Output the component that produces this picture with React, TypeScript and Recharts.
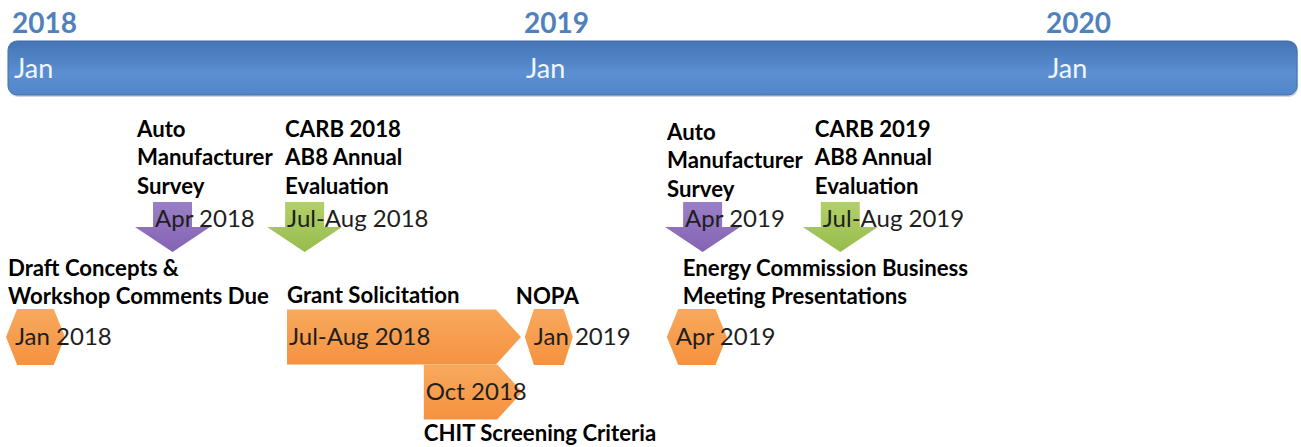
import React from 'react';
import { ComposedChart, XAxis, YAxis, Scatter, ReferenceArea, ReferenceLine } from 'recharts';

// x is months counted from Jan 2018 (the original layout is hand placed)
const yearTicks = [0, 12, 24];
const yearLabels = ['2018', '2019', '2020'];
const tickMonth = 'Jan';

// down arrows (row 2)
const arrowStart = [2.85, 5.91, 15.13, 18.32];
const arrowDates = ['Apr 2018', 'Jul-Aug 2018', 'Apr 2019', 'Jul-Aug 2019'];
const arrowKinds = ['survey', 'carb', 'survey', 'carb'];
const arrowTitles = [
  ['Auto', 'Manufacturer', 'Survey'],
  ['CARB 2018', 'AB8 Annual', 'Evaluation'],
  ['Auto', 'Manufacturer', 'Survey'],
  ['CARB 2019', 'AB8 Annual', 'Evaluation'],
];

// hexagon milestones (row 4)
const hexStart = [-0.14, 11.88, 15.17];
const hexDates = ['Jan 2018', 'Jan 2019', 'Apr 2019'];
const hexTitles = [
  ['Draft Concepts &', 'Workshop Comments Due'],
  ['NOPA'],
  ['Energy Commission Business', 'Meeting Presentations'],
];

// pentagon spans (rows 4 and 5)
const barStart = [6.37, 9.54];
const barEnd = [11.79, 11.82];
const barRows = [4, 5];
const barDates = ['Jul-Aug 2018', 'Oct 2018'];
const barTitles = ['Grant Solicitation', 'CHIT Screening Criteria'];

const ARROW_ROW = 2;
const HEX_ROW = 4;

const arrowData = arrowStart.map((start, i) => ({
  start, row: ARROW_ROW, date: arrowDates[i], kind: arrowKinds[i], title: arrowTitles[i], idx: i,
}));
const hexData = hexStart.map((start, i) => ({
  start, row: HEX_ROW, date: hexDates[i], title: hexTitles[i], idx: i,
}));
const barData = barStart.map((start, i) => ({
  start, end: barEnd[i], row: barRows[i], date: barDates[i], title: barTitles[i], idx: i,
}));

// layout bits
const W = 1301;
const H = 447;
const X_DOMAIN = [-0.278, 29.861];
const FONT = 'Lato, "Open Sans", sans-serif';
const arrowTitleDx = [2, 18, 2, 12];
const arrowTitleDy = [0, 0, 3, 0];
const hexWidth = [59, 48, 60];
const hexTitleDx = [2, -9, 16];
const yearDx = [0, -6, -2];
const BAND_LEFT = -0.093;
const BAND_RIGHT = 29.77;
const BAND_TOP = -1.382;
const BAND_BOTTOM = -0.4;

const titleStyle = { fontFamily: FONT, fontSize: 22.2, fontWeight: 700, fill: '#000' };
const dateStyle = { fontFamily: FONT, fontSize: 24, fill: '#1e1e1e' };

const YearLabel = (props: any) => {
  const { viewBox, index } = props;
  const x = viewBox.x + yearDx[index];
  return (
    <g>
      <text x={x} y={33} style={{ fontFamily: FONT, fontSize: 28, fontWeight: 700, fill: '#4f81bd' }}>
        {yearLabels[index]}
      </text>
      <text x={x + 2} y={78} style={{ fontFamily: FONT, fontSize: 27, fill: '#f2f6fc' }}>
        {tickMonth}
      </text>
    </g>
  );
};

const ArrowShape = (props: any) => {
  const { cx, cy, payload } = props;
  const x0 = cx;
  const w = 75;
  const sl = 18;
  const sw = 39;
  const half = 25;
  const d = `M${x0 + sl},${cy - half} H${x0 + sl + sw} V${cy} H${x0 + w} L${x0 + w / 2},${cy + half} L${x0},${cy} H${x0 + sl} Z`;
  const fill = payload.kind === 'survey' ? 'url(#gPurple)' : 'url(#gGreen)';
  const tx = x0 + arrowTitleDx[payload.idx];
  const ty = cy - 90 + arrowTitleDy[payload.idx];
  return (
    <g>
      <path d={d} fill={fill} />
      <text x={x0 + 20} y={cy} style={dateStyle}>{payload.date}</text>
      {payload.title.map((t: string, i: number) => (
        <text key={i} x={tx} y={ty + i * 28.5} style={titleStyle}>{t}</text>
      ))}
    </g>
  );
};

const HexShape = (props: any) => {
  const { cx, cy, payload } = props;
  const x0 = cx;
  const w = hexWidth[payload.idx];
  const inset = w * 0.19;
  const h = 28;
  const d = `M${x0},${cy} L${x0 + inset},${cy - h} H${x0 + w - inset} L${x0 + w},${cy} L${x0 + w - inset},${cy + h} H${x0 + inset} Z`;
  const lines: string[] = payload.title;
  const tx = x0 + hexTitleDx[payload.idx];
  return (
    <g>
      <path d={d} fill="url(#gOrange)" />
      <text x={x0 + 9} y={cy + 8} style={dateStyle}>{payload.date}</text>
      {lines.map((t, i) => (
        <text key={i} x={tx} y={cy - 33 - (lines.length - 1 - i) * 28} style={titleStyle}>{t}</text>
      ))}
    </g>
  );
};

const SpanShape = (props: any) => {
  const { x, y, width, height, item } = props;
  const pt = 25;
  const d = `M${x},${y} H${x + width - pt} L${x + width},${y + height / 2} L${x + width - pt},${y + height} H${x} Z`;
  const below = item.row === 5;
  return (
    <g>
      <path d={d} fill="url(#gOrange)" />
      <text x={x + 2} y={y + height / 2 + 8} style={dateStyle}>{item.date}</text>
      <text x={x} y={below ? y + height + 22 : y - 6} style={titleStyle}>{item.title}</text>
    </g>
  );
};

const BandShape = (props: any) => {
  const { x, y, width, height } = props;
  return (
    <g>
      <rect x={x + 1} y={y + 2} width={width} height={height} rx={9} fill="#b8c2cf" opacity={0.7} />
      <rect x={x} y={y} width={width} height={height} rx={9} fill="url(#gBand)" stroke="#4470ad" strokeWidth={1} />
    </g>
  );
};

export default function App() {
  return (
    <div style={{ position: 'absolute', left: 0, top: 0, background: '#fff' }}>
      <ComposedChart width={W} height={H} margin={{ top: 0, right: 0, bottom: 0, left: 0 }}>
        <defs>
          <linearGradient id="gBand" x1="0" y1="0" x2="0" y2="1">
            <stop offset="0%" stopColor="#4574b5" />
            <stop offset="60%" stopColor="#5a8fd2" />
            <stop offset="100%" stopColor="#5286c8" />
          </linearGradient>
          <linearGradient id="gPurple" x1="0" y1="0" x2="0" y2="1">
            <stop offset="0%" stopColor="#9a7fc6" />
            <stop offset="100%" stopColor="#8463b4" />
          </linearGradient>
          <linearGradient id="gGreen" x1="0" y1="0" x2="0" y2="1">
            <stop offset="0%" stopColor="#b2d06a" />
            <stop offset="100%" stopColor="#97bc4c" />
          </linearGradient>
          <linearGradient id="gOrange" x1="0" y1="0" x2="0" y2="1">
            <stop offset="0%" stopColor="#f8a95e" />
            <stop offset="100%" stopColor="#f59240" />
          </linearGradient>
        </defs>
        <XAxis dataKey="start" type="number" domain={X_DOMAIN} allowDataOverflow hide />
        <YAxis dataKey="row" type="number" domain={[-2.127, 6.0]} reversed hide allowDataOverflow />
        <ReferenceArea
          x1={BAND_LEFT}
          x2={BAND_RIGHT}
          y1={BAND_TOP}
          y2={BAND_BOTTOM}
          shape={(p: any) => <BandShape {...p} />}
          ifOverflow="visible"
        />
        {yearTicks.map((m, i) => (
          <ReferenceLine key={m} x={m} stroke="none" label={<YearLabel index={i} />} ifOverflow="visible" />
        ))}
        {barData.map((b) => (
          <ReferenceArea
            key={b.idx}
            x1={b.start}
            x2={b.end}
            y1={b.row - 0.5}
            y2={b.row + 0.5}
            shape={(p: any) => <SpanShape {...p} item={b} />}
            ifOverflow="visible"
          />
        ))}
        <Scatter data={hexData} dataKey="row" shape={(p: any) => <HexShape {...p} />} isAnimationActive={false} />
        <Scatter data={arrowData} dataKey="row" shape={(p: any) => <ArrowShape {...p} />} isAnimationActive={false} />
      </ComposedChart>
    </div>
  );
}
